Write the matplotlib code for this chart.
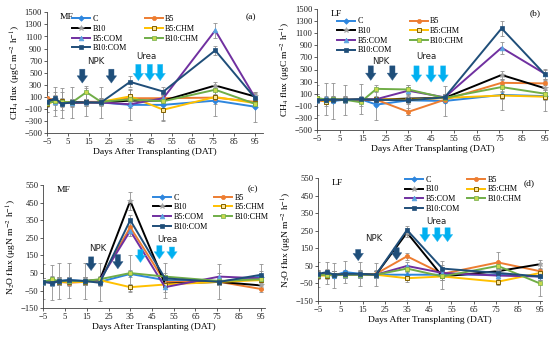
import matplotlib
matplotlib.use("Agg")
import matplotlib.pyplot as plt
import numpy as np

plt.rcParams['font.family'] = ['Liberation Serif', 'DejaVu Serif']
plt.rcParams['mathtext.fontset'] = 'stix'

days = [-5, -1, 2, 7, 14, 21, 35, 51, 76, 95]
series = ['C', 'B5', 'B10', 'B5:CHM', 'B5:COM', 'B10:CHM', 'B10:COM']

# (a) CH4, MF
ch4_mf = {
    'C':       [20, 30, 0, 10, 20, 10, -30, -30, 40, -60],
    'B5':      [80, 50, 10, 10, 20, 20, 80, 80, 90, 20],
    'B10':     [40, 60, 0, 10, 10, 10, 40, 40, 290, 110],
    'B5:CHM':  [-20, 40, 30, 0, 10, 20, 110, -110, 100, 0],
    'B5:COM':  [20, 20, 0, 0, 10, 10, -20, 80, 1200, 100],
    'B10:CHM': [0, 30, 20, 10, 180, 20, 60, 30, 220, -10],
    'B10:COM': [20, 80, -10, 10, 10, 10, 350, 190, 870, 90],
}
ch4_mf_err = {
    'C':       [170, 240, 250, 250, 230, 250, 250, 250, 250, 250],
    'B5':      [40, 40, 40, 40, 40, 40, 60, 60, 60, 40],
    'B10':     [60, 60, 40, 40, 40, 40, 60, 60, 60, 60],
    'B5:CHM':  [120, 150, 150, 60, 60, 60, 120, 180, 120, 60],
    'B5:COM':  [40, 40, 40, 40, 40, 40, 60, 60, 120, 80],
    'B10:CHM': [60, 60, 60, 60, 110, 60, 60, 60, 80, 60],
    'B10:COM': [60, 60, 60, 60, 60, 60, 90, 80, 80, 60],
}

# (b) CH4, LF
ch4_lf = {
    'C':       [0, 10, -20, 0, 10, -80, -10, -20, 80, 60],
    'B5':      [-10, -30, 0, 0, 0, 0, -200, 0, 280, 270],
    'B10':     [0, 0, 0, 0, 0, 0, 20, 30, 410, 190],
    'B5:CHM':  [30, -40, 0, 0, 0, 10, 0, 30, 70, 50],
    'B5:COM':  [0, 0, 0, 0, 0, 10, 150, 40, 860, 430],
    'B10:CHM': [30, 0, 10, 0, -40, 180, 170, 30, 210, 100],
    'B10:COM': [-10, 0, 0, 0, 10, 0, -10, 40, 1180, 420],
}
ch4_lf_err = {
    'C':       [250, 260, 300, 250, 250, 250, 250, 250, 250, 250],
    'B5':      [40, 40, 40, 40, 40, 40, 60, 60, 60, 60],
    'B10':     [40, 40, 40, 40, 40, 40, 60, 60, 60, 60],
    'B5:CHM':  [60, 60, 60, 60, 60, 60, 60, 60, 60, 60],
    'B5:COM':  [40, 40, 40, 40, 40, 40, 60, 60, 100, 80],
    'B10:CHM': [60, 60, 60, 60, 60, 60, 80, 60, 60, 60],
    'B10:COM': [40, 40, 40, 40, 40, 40, 60, 60, 120, 80],
}

# (c) N2O, MF
n2o_mf = {
    'C':       [0, -5, 5, 10, 5, 0, 45, 10, 0, 30],
    'B5':      [0, 0, 0, -5, 0, 10, 310, 0, 0, -40],
    'B10':     [0, 0, 0, 5, 5, 10, 460, -10, 0, -20],
    'B5:CHM':  [0, 10, 0, 0, 0, 10, -30, -15, 0, 10],
    'B5:COM':  [0, -5, 5, 5, 5, 10, 290, -30, 30, 20],
    'B10:CHM': [0, 15, 5, 5, 5, 15, 50, 30, 5, 15],
    'B10:COM': [0, -5, 5, 10, 5, -5, 350, 20, 0, 40],
}
n2o_mf_err = {
    'C':       [100, 100, 100, 100, 100, 110, 105, 100, 100, 70],
    'B5':      [20, 20, 20, 20, 20, 20, 30, 20, 20, 20],
    'B10':     [20, 20, 20, 20, 20, 20, 50, 20, 20, 20],
    'B5:CHM':  [20, 20, 20, 20, 20, 20, 20, 20, 20, 20],
    'B5:COM':  [20, 20, 20, 20, 20, 20, 30, 30, 20, 20],
    'B10:CHM': [20, 20, 20, 20, 20, 20, 20, 20, 20, 20],
    'B10:COM': [20, 20, 20, 20, 20, 20, 30, 20, 20, 20],
}

# (d) N2O, LF
n2o_lf = {
    'C':       [0, 10, -5, 15, 5, 0, 0, 0, 0, -10],
    'B5':      [5, 0, 0, 5, 0, 5, 105, 5, 70, 20],
    'B10':     [0, 5, 0, 0, 5, 0, 240, -10, 20, 60],
    'B5:CHM':  [-5, -5, 0, 0, 0, 0, -20, -10, -40, 10],
    'B5:COM':  [0, 5, 0, 0, 0, 0, 50, 10, -5, -10],
    'B10:CHM': [0, 0, 0, 0, 0, 0, 35, -10, 50, -50],
    'B10:COM': [5, 15, 0, 5, 5, 0, 255, 35, 10, -10],
}
n2o_lf_err = {
    'C':       [70, 65, 70, 65, 70, 65, 20, 80, 20, 20],
    'B5':      [20, 20, 20, 20, 20, 20, 20, 20, 60, 20],
    'B10':     [20, 20, 20, 20, 20, 20, 25, 20, 20, 25],
    'B5:CHM':  [20, 20, 20, 20, 20, 20, 20, 20, 20, 20],
    'B5:COM':  [20, 20, 20, 20, 20, 20, 20, 20, 20, 20],
    'B10:CHM': [20, 20, 20, 20, 20, 20, 20, 20, 20, 70],
    'B10:COM': [20, 20, 20, 20, 20, 20, 25, 20, 20, 20],
}

styles = {
    'C':       dict(color='#2E86DE', marker='D', mfc='#2E86DE', mec='#2E86DE', ms=2.8),
    'B5':      dict(color='#ED7D31', marker='o', mfc='#ED7D31', mec='#ED7D31', ms=3.0),
    'B10':     dict(color='#000000', marker='*', mfc='#A5A5A5', mec='#A5A5A5', ms=3.8),
    'B5:CHM':  dict(color='#FFC000', marker='s', mfc='#FFE699', mec='#7F6000', ms=3.2, mew=0.7),
    'B5:COM':  dict(color='#7030A0', marker='^', mfc='#5BA3E0', mec='#5BA3E0', ms=3.4),
    'B10:CHM': dict(color='#70AD47', marker='s', mfc='#C8D84C', mec='#70AD47', ms=3.2),
    'B10:COM': dict(color='#1F4E79', marker='s', mfc='#1F4E79', mec='#1F4E79', ms=3.2),
}

panels = [
    dict(data=ch4_mf, err=ch4_mf_err, pos=[47/550, 1-133.3/341, 216/550, 121/341],
         xmax=99, ylim=(-500, 1500), yticks=np.arange(-500, 1501, 200),
         ylabel='CH$_4$ flux (μgC m$^{-2}$ h$^{-1}$)', site='MF', tag='(a)',
         leg=(0.115, 0.975), colsp=2.2, npk=[(12, 560, 330), (26, 560, 330)],
         urea=[(39, 640, 370), (44.5, 640, 370), (49.5, 640, 370)],
         npk_txt=(18.5, 690), urea_txt=(43, 770)),
    dict(data=ch4_lf, err=ch4_lf_err, pos=[317.3/550, 1-130/341, 230.5/550, 121/341],
         xmax=96.3, ylim=(-500, 1500), yticks=np.arange(-500, 1501, 200),
         ylabel='CH$_4$ flux (μgC m$^{-2}$ h$^{-1}$)', site='LF', tag='(b)',
         leg=(0.085, 0.93), colsp=2.2, npk=[(18.5, 560, 320), (28, 560, 320)],
         urea=[(38.6, 560, 290), (45, 560, 290), (50.3, 560, 290)],
         npk_txt=(23, 635), urea_txt=(43, 720)),
    dict(data=n2o_mf, err=n2o_mf_err, pos=[43.3/550, 1-308.3/341, 221.7/550, 123.3/341],
         xmax=97, ylim=(-150, 550), yticks=np.arange(-150, 551, 100),
         ylabel='N$_2$O flux (μgN m$^{-2}$ h$^{-1}$)', site='MF', tag='(c)',
         leg=(0.495, 0.93), colsp=0.8, npk=[(17, 142, 64), (29.3, 155, 74)],
         urea=[(39.7, 183, 110), (48.4, 206, 130), (54.2, 198, 130)],
         npk_txt=(20, 187), urea_txt=(52, 240)),
    dict(data=n2o_lf, err=n2o_lf_err, pos=[318.3/550, 1-301/341, 223.5/550, 122.7/341],
         xmax=95.8, ylim=(-150, 550), yticks=np.arange(-150, 551, 100),
         ylabel='N$_2$O flux (μgN m$^{-2}$ h$^{-1}$)', site='LF', tag='(d)',
         leg=(0.388, 1.02), colsp=0.9, npk=[(13, 144, 80), (30.3, 154, 84)],
         urea=[(43.1, 268, 188), (48.7, 268, 188), (53.3, 268, 188)],
         npk_txt=(19.8, 205), urea_txt=(48.4, 305)),
]

legend_order = ['C', 'B10', 'B5:COM', 'B10:COM', 'B5', 'B5:CHM', 'B10:CHM']
xticks = np.arange(-5, 96, 10)

fig = plt.figure(figsize=(5.5, 3.41), dpi=100)
for p in panels:
    ax = fig.add_axes(p['pos'])
    handles = {}
    for s in series:
        ax.errorbar(days, p['data'][s], yerr=p['err'][s], fmt='none',
                    ecolor='#909090', elinewidth=0.6, capsize=1.4, capthick=0.6, zorder=1)
    for s in series:
        st = styles[s]
        ln, = ax.plot(days, p['data'][s], color=st['color'], lw=1.4, marker=st['marker'],
                      mfc=st['mfc'], mec=st['mec'], ms=st['ms'], mew=st.get('mew', 0.5),
                      label=s, zorder=3)
        handles[s] = ln
    ax.set_xlim(-5, p['xmax'])
    ax.set_ylim(*p['ylim'])
    ax.set_xticks(xticks)
    ax.set_yticks(p['yticks'])
    ax.set_xticklabels(['−5' if v == -5 else str(v) for v in xticks])
    ax.set_yticklabels([('−' + str(-v)) if v < 0 else str(v) for v in p['yticks']])
    for sp in ['top', 'right']:
        ax.spines[sp].set_visible(False)
    for sp in ['left', 'bottom']:
        ax.spines[sp].set_color('#404040')
        ax.spines[sp].set_linewidth(0.6)
    ax.tick_params(axis='both', labelsize=6.2, length=2, width=0.5, pad=1.5, colors='#202020')
    ax.set_xlabel('Days After Transplanting (DAT)', fontsize=6.8, labelpad=1.5)
    ax.set_ylabel(p['ylabel'], fontsize=6.8, labelpad=1)
    ax.text(0.06, 0.995, p['site'], transform=ax.transAxes, fontsize=6.8, va='top', ha='left')
    ax.text(0.97, 0.995, p['tag'], transform=ax.transAxes, fontsize=6.8, va='top', ha='right')
    ax.legend([handles[s] for s in legend_order], legend_order, ncol=2, loc='upper left',
              bbox_to_anchor=p['leg'], frameon=False, fontsize=5.9, handlelength=2.2,
              handletextpad=0.3, columnspacing=p['colsp'], labelspacing=0.2, borderpad=0,
              borderaxespad=0)
    arrow_style = 'simple,head_width=1.0,head_length=0.7,tail_width=0.5'
    for (x, y0, y1) in p['npk']:
        ax.annotate('', xy=(x, y1), xytext=(x, y0),
                    arrowprops=dict(arrowstyle=arrow_style, fc='#1F4E79', ec='#2E5C8A', lw=0.3,
                                    shrinkA=0, shrinkB=0, mutation_scale=7.5), zorder=4)
    for (x, y0, y1) in p['urea']:
        ax.annotate('', xy=(x, y1), xytext=(x, y0),
                    arrowprops=dict(arrowstyle=arrow_style, fc='#00B0F0', ec='#3CC0F5', lw=0.3,
                                    shrinkA=0, shrinkB=0, mutation_scale=7.5), zorder=4)
    ax.text(p['npk_txt'][0], p['npk_txt'][1], 'NPK', fontsize=6.2, family='DejaVu Sans',
            ha='center', va='center', color='#202020')
    ax.text(p['urea_txt'][0], p['urea_txt'][1], 'Urea', fontsize=6.2, family='DejaVu Sans',
            ha='center', va='center', color='#202020')

fig.savefig('out.png', dpi=100)
